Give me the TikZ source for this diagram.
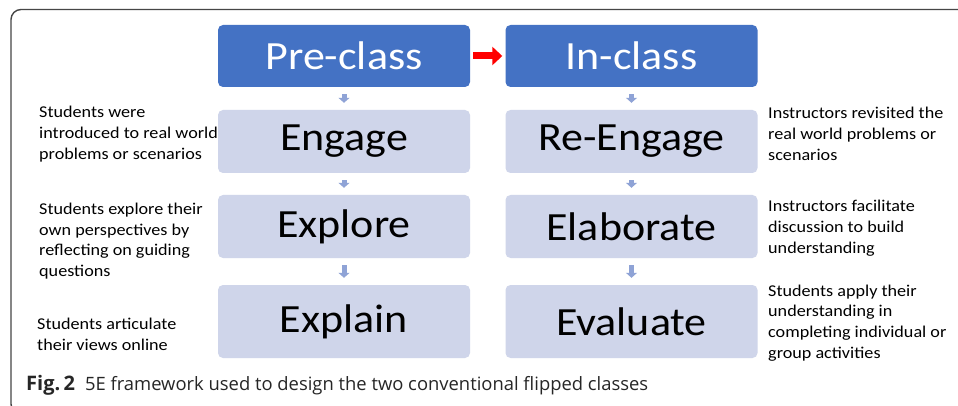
\documentclass[tikz,border=0pt]{standalone}
\usepackage{fontspec}
\setmainfont{Carlito}[FakeStretch=1.1]
\newfontfamily\capfont{Open Sans}
\usetikzlibrary{arrows.meta}
\definecolor{PhaseBlue}{RGB}{68, 114, 196}
\definecolor{StageBlue}{RGB}{207, 213, 234}
\definecolor{FlowBlue}{RGB}{143, 163, 214}
\definecolor{FrameGray}{RGB}{70, 70, 70}
\tikzset{
  phase/.style={fill=PhaseBlue, text=white, rounded corners=5pt, minimum width=252pt, minimum height=62pt, inner sep=0pt, font=\fontsize{40}{40}\selectfont},
  stage/.style={fill=StageBlue, text=black, rounded corners=5pt, minimum width=252pt, inner sep=0pt, font=\fontsize{40}{40}\selectfont},
  flow/.style={-{Triangle[width=11pt, length=5pt]}, line width=5pt, FlowBlue, shorten <=7pt, shorten >=7pt},
  note/.style={anchor=west, align=left, inner sep=0pt, font=\fontsize{16.5}{20.7}\selectfont}
}
\begin{document}
\begin{tikzpicture}[x=1pt, y=-1pt]
\useasboundingbox (0,0) rectangle (958,406);
\fill[white] (0,0) rectangle (958,406);
% frame round the figure
\begin{scope}
\clip (0,0) rectangle (958,406);
\draw[FrameGray, line width=1.4pt, rounded corners=10pt] (962,9.5) -- (11,9.5) -- (11,414) -- (40,414);
\end{scope}
% phases
\node[phase] (pre) at (344,56) {Pre-class};
\node[phase] (in) at (631.5,56) {In-class};
\draw[-{Triangle[width=18pt, length=10pt]}, line width=7pt, red, shorten <=3pt, shorten >=3pt] (pre) -- (in);
% the five E
\foreach \n/\x/\y/\h/\t in {eng/344/141.5/63/Engage, expo/344/226.5/63/Explore, expl/344/321.5/73/Explain,
  reeng/631.5/141.5/63/Re-Engage, elab/631.5/226.5/63/Elaborate, eval/631.5/321.5/73/Evaluate}{
\node[stage, minimum height=\h pt] (\n) at (\x,\y) {\t};
}
\foreach \a/\b in {pre/eng, eng/expo, expo/expl, in/reeng, reeng/elab, elab/eval}{
\draw[flow] (\a) -- (\b);
}
% what happens in each step
\node[note] (engnote) at (39,134) {Students were\\introduced to real world\\problems or scenarios};
\node[note] (exponote) at (39,241) {Students explore their\\own perspectives by\\reflecting on guiding\\questions};
\node[note] (explnote) at (37,334) {Students articulate\\their views online};
\node[note] (reengnote) at (768,134) {Instructors revisited the\\real world problems or\\scenarios};
\node[note] (elabnote) at (768,228) {Instructors facilitate\\discussion to build\\understanding};
\node[note] (evalnote) at (768,323) {Students apply their\\understanding in\\completing individual or\\group activities};
% caption
\node[anchor=west, inner sep=0pt, text=black!85, font=\capfont\fontsize{18.4}{18.4}\selectfont] (caption) at (26,385) {{\fontsize{20}{20}\selectfont\bfseries Fig.\,2}\hspace{10pt}5E framework used to design the two conventional flipped classes};
\end{tikzpicture}
\end{document}
